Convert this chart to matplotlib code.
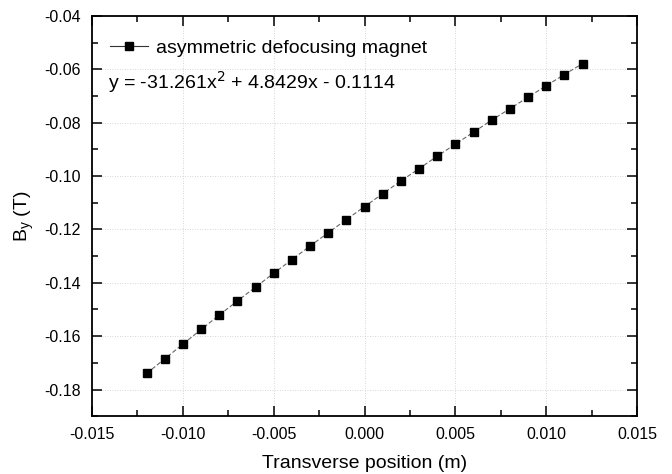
import matplotlib
matplotlib.use("Agg")
import matplotlib.pyplot as plt
from matplotlib.ticker import MultipleLocator

plt.rcParams["font.family"] = ["Liberation Sans", "DejaVu Sans"]

# transverse position (m) and measured field B_y (T)
pos = [-0.012, -0.011, -0.010, -0.009, -0.008, -0.007, -0.006, -0.005, -0.004,
       -0.003, -0.002, -0.001, 0.000, 0.001, 0.002, 0.003, 0.004, 0.005,
       0.006, 0.007, 0.008, 0.009, 0.010, 0.011, 0.012]
by = [-0.1740, -0.1685, -0.1630, -0.1575, -0.1521, -0.1468, -0.1416, -0.1364,
      -0.1313, -0.1262, -0.1212, -0.1163, -0.1114, -0.1066, -0.1018, -0.0972,
      -0.0925, -0.0880, -0.0835, -0.0790, -0.0747, -0.0704, -0.0661, -0.0619,
      -0.0578]
series_label = "asymmetric defocusing magnet"
fit_text = r"y = -31.261x$^2$ + 4.8429x - 0.1114"

fig = plt.figure(figsize=(6.72, 4.74), dpi=100)
ax = fig.add_axes([0.137, 0.122, 0.811, 0.844])

ax.plot(pos, by, ls=(0, (4, 2)), lw=0.8, color="#666666",
        marker="s", ms=6.2, mfc="black", mec="black", label=series_label)

ax.set_xlim(-0.015, 0.015)
ax.set_ylim(-0.19, -0.04)
ax.xaxis.set_major_locator(MultipleLocator(0.005))
ax.xaxis.set_minor_locator(MultipleLocator(0.0025))
ax.yaxis.set_major_locator(MultipleLocator(0.02))
ax.yaxis.set_minor_locator(MultipleLocator(0.01))
ax.xaxis.set_major_formatter(lambda v, p: f"{v:.3f}")
ax.yaxis.set_major_formatter(lambda v, p: f"{v:.2f}")

ax.tick_params(which="both", direction="in", top=True, right=True,
               labeltop=False, labelright=False, width=1.1, labelsize=11.5)
ax.tick_params(which="major", length=7, pad=8)
ax.tick_params(which="minor", length=4)
for s in ax.spines.values():
    s.set_linewidth(1.3)

ax.grid(True, which="major", ls=(0, (1, 2)), lw=0.6, color="#c8c8c8")
ax.set_axisbelow(True)

ax.set_xlabel("Transverse position (m)", fontsize=14, labelpad=9)
ax.set_ylabel(r"B$_\mathregular{y}$ (T)", fontsize=14, labelpad=6)

leg = ax.legend(loc="center left", frameon=False, fontsize=14, handlelength=2.0,
                handletextpad=0.4, bbox_to_anchor=(0.0, 0.92))
leg.get_lines()[0].set_linestyle("-")
leg.get_lines()[0].set_color("#333333")
ax.text(0.03, 0.835, fit_text, transform=ax.transAxes, fontsize=14,
        va="center", ha="left")

fig.savefig("out.png", dpi=100)
